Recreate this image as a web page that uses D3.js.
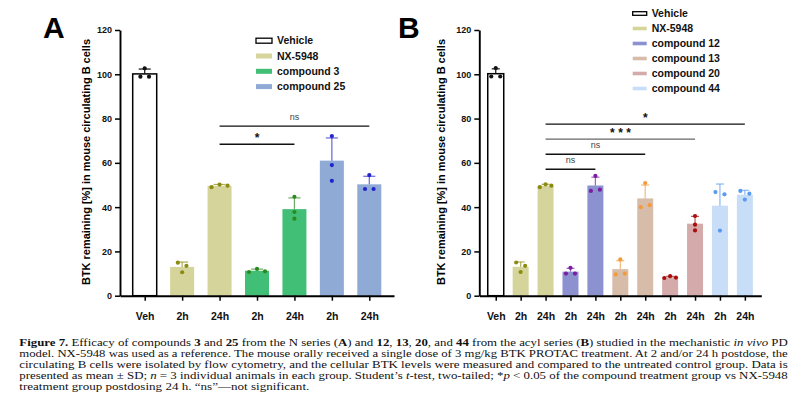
<!DOCTYPE html>
<html lang="en">
<head>
<meta charset="UTF-8">
<title>Figure 7</title>
<script src="https://d3js.org/d3.v7.min.js"></script>
<style>
body { margin: 0; background: #fff; }
text { font-family: "Liberation Sans", Arial, sans-serif; }
.caption text { font-family: "Liberation Serif", "Times New Roman", serif; font-size: 9.8px; fill: #111; }
</style>
</head>
<body>
<div id="chart"></div>
<script>

// ---- panel A (N series)
var labelsA = ["Veh", "2h", "24h", "2h", "24h", "2h", "24h"];
var seriesA = ["Vehicle", "NX-5948", "compound 3", "compound 25"];
var barSeriesA = [0, 1, 1, 2, 2, 3, 3];
// individual animals, read left -> right
var dotsA = [
	[98.9, 102.7, 98.9],
	[14.9, 10.6, 13.5],
	[49.0, 50.2, 49.7],
	[10.7, 12.1, 11.0],
	[44.7, 37.8, 34.8],
	[72.1, 59.0, 51.9],
	[48.2, 54.5, 48.2]
];
var sigA = [
	{ from: 2, to: 4, label: "*" },
	{ from: 2, to: 6, label: "ns" }
];

// ---- panel B (acyl series)
var labelsB = ["Veh", "2h", "24h", "2h", "24h", "2h", "24h", "2h", "24h", "2h", "24h"];
var seriesB = ["Vehicle", "NX-5948", "compound 12", "compound 13", "compound 20", "compound 44"];
var barSeriesB = [0, 1, 1, 2, 2, 3, 3, 4, 4, 5, 5];
var dotsB = [
	[99.0, 102.8, 99.0],
	[15.0, 10.7, 13.5],
	[49.0, 50.3, 49.7],
	[10.0, 12.6, 10.0],
	[47.3, 54.1, 47.9],
	[9.6, 16.4, 10.0],
	[40.0, 50.9, 40.9],
	[8.0, 8.8, 8.2],
	[36.0, 32.1, 29.5],
	[46.8, 29.4, 45.8],
	[47.3, 43.4, 46.1]
];
var sigB = [
	{ from: 2, to: 4, label: "ns" },
	{ from: 2, to: 6, label: "ns" },
	{ from: 2, to: 8, label: "***" },
	{ from: 2, to: 10, label: "*" }
];

var yTicks = [0, 20, 40, 60, 80, 100, 120];
var yTitle = "BTK remaining [%] in mouse circulating B cells";

// colours per series name
var barColor = {
	"Vehicle": "#ffffff",
	"NX-5948": "#d5d49b",
	"compound 3": "#42bf77",
	"compound 25": "#8eaad5",
	"compound 12": "#8c91cf",
	"compound 13": "#d7bda9",
	"compound 20": "#d5aaab",
	"compound 44": "#c8ddf7"
};
var dotColor = {
	"Vehicle": "#111111",
	"NX-5948": "#8b8b12",
	"compound 3": "#2b8a1f",
	"compound 25": "#2323cc",
	"compound 12": "#7b1fa0",
	"compound 13": "#f39a3c",
	"compound 20": "#a80e0e",
	"compound 44": "#5a9af0"
};

var captionLines = [
	[["Figure 7.", "b"], [" Efficacy of compounds "], ["3", "b"], [" and "], ["25", "b"], [" from the N series ("], ["A", "b"], [") and "], ["12", "b"], [", "], ["13", "b"], [", "], ["20", "b"], [", and "], ["44", "b"], [" from the acyl series ("], ["B", "b"], [") studied in the mechanistic "], ["in vivo", "i"], [" PD"]],
	[["model. NX-5948 was used as a reference. The mouse orally received a single dose of 3 mg/kg BTK PROTAC treatment. At 2 and/or 24 h postdose, the"]],
	[["circulating B cells were isolated by flow cytometry, and the cellular BTK levels were measured and compared to the untreated control group. Data is"]],
	[["presented as mean \u00b1 SD; "], ["n", "i"], [" = 3 individual animals in each group. Student\u2019s "], ["t", "i"], ["-test, two-tailed; *"], ["p", "i"], [" < 0.05 of the compound treatment group vs NX-5948"]],
	[["treatment group postdosing 24 h. \u201cns\u201d\u2014not significant."]]
];

var svg = d3.select("#chart")
	.append("svg")
	.attr("width", 807)
	.attr("height", 414);

// put dots that sit at about the same height side by side
function spread(vals, y, cfg) {
	var order = d3.range(vals.length).sort((a, b) => vals[a] - vals[b]);
	var bins = [];
	order.forEach(function (i, k) {
		if (k > 0 && Math.abs(y(vals[i]) - y(vals[order[k - 1]])) < 5) bins[bins.length - 1].push(i);
		else bins.push([i]);
	});
	var off = vals.map(() => 0);
	bins.forEach(function (b) {
		b.sort((p, q) => p - q);
		if (b.length == 2) { off[b[0]] = -cfg.pair; off[b[1]] = cfg.pair; }
		if (b.length >= 3) b.forEach((i, j) => off[i] = (j - (b.length - 1) / 2) * cfg.triple);
	});
	return off;
}

function drawPanel(cfg) {
	var g = svg.append("g");
	var n = cfg.labels.length;

	var x = d3.scalePoint()
		.domain(d3.range(n))
		.range([cfg.left, cfg.right])
		.padding(0.66);

	var y = d3.scaleLinear()
		.domain([0, 120])
		.range([295.7, 30]);

	var groups = cfg.dots.map(function (v, i) {
		var name = cfg.series[cfg.barSeries[i]];
		var m = d3.mean(v);
		return { i: i, name: name, vals: v, mean: m, sd: d3.deviation(v) };
	});

	// bars
	g.selectAll(".bar")
		.data(groups)
		.join("rect")
		.attr("x", (d) => x(d.i) - cfg.barW / 2)
		.attr("y", (d) => y(d.mean))
		.attr("width", cfg.barW)
		.attr("height", (d) => y(0) - y(d.mean))
		.attr("fill", (d) => barColor[d.name])
		.attr("stroke", (d) => d.name == "Vehicle" ? "#000" : "none")
		.attr("stroke-width", 1.5);

	// error bars (upper only)
	var eb = g.selectAll(".err")
		.data(groups)
		.join("g")
		.attr("stroke", (d) => dotColor[d.name])
		.attr("stroke-opacity", (d) => d.name == "Vehicle" ? 1 : 0.7)
		.attr("stroke-width", 1.2);
	eb.append("line")
		.attr("x1", (d) => x(d.i))
		.attr("x2", (d) => x(d.i))
		.attr("y1", (d) => y(d.mean))
		.attr("y2", (d) => y(d.mean + d.sd));
	eb.append("line")
		.attr("x1", (d) => x(d.i) - cfg.capW / 2)
		.attr("x2", (d) => x(d.i) + cfg.capW / 2)
		.attr("y1", (d) => y(d.mean + d.sd))
		.attr("y2", (d) => y(d.mean + d.sd));

	// dots
	groups.forEach(function (d) {
		var off = spread(d.vals, y, cfg);
		g.selectAll(null)
			.data(d.vals)
			.join("circle")
			.attr("cx", (v, k) => x(d.i) + off[k])
			.attr("cy", (v) => y(v))
			.attr("r", 2.1)
			.attr("fill", dotColor[d.name]);
	});

	// axes
	var yAxis = g.append("g")
		.attr("transform", "translate(" + cfg.left + ",0)")
		.call(d3.axisLeft(y).tickValues(yTicks).tickSize(5).tickSizeOuter(0).tickPadding(3));
	var xAxis = g.append("g")
		.attr("transform", "translate(0," + y(0) + ")")
		.call(d3.axisBottom(x).tickSize(5).tickSizeOuter(0).tickPadding(12).tickFormat((i) => cfg.labels[i]));
	[yAxis, xAxis].forEach(function (a) {
		a.select(".domain").attr("stroke", "#000").attr("stroke-width", 1.9);
		a.selectAll(".tick line").attr("stroke", "#000").attr("stroke-width", 1.5);
		a.selectAll("text").attr("font-family", "Liberation Sans, Arial, sans-serif").attr("font-weight", "bold").attr("fill", "#111");
	});
	yAxis.selectAll("text").attr("font-size", 9);
	xAxis.selectAll("text").attr("font-size", 10.5);

	// y title
	g.append("text")
		.attr("transform", "translate(" + cfg.titleX + ",162) rotate(-90)")
		.attr("text-anchor", "middle")
		.attr("dy", "0.35em")
		.attr("font-size", 10.5)
		.attr("font-weight", "bold")
		.attr("textLength", 246)
		.attr("lengthAdjust", "spacingAndGlyphs")
		.text(yTitle);

	// panel letter
	g.append("text")
		.attr("x", cfg.letterX)
		.attr("y", 38)
		.attr("font-size", 30)
		.attr("font-weight", "bold")
		.text(cfg.letter);

	// significance brackets
	cfg.sig.forEach(function (s, j) {
		var ly = y(cfg.sigBase + j * cfg.sigStep);
		g.append("line")
			.attr("x1", x(s.from))
			.attr("x2", x(s.to))
			.attr("y1", ly)
			.attr("y2", ly)
			.attr("stroke", s.label == "***" ? "#666" : "#111")
			.attr("stroke-width", 1.4);
		var star = s.label != "ns";
		g.append("text")
			.attr("x", (x(s.from) + x(s.to)) / 2 + (s.label == "***" ? 2 : 0))
			.attr("y", star ? ly - 2.5 : ly - 6.5)
			.attr("text-anchor", "middle")
			.attr("font-size", star ? 12 : 9)
			.attr("font-weight", star ? "bold" : "normal")
			.attr("letter-spacing", s.label == "***" ? 3.5 : 0)
			.attr("fill", star ? "#111" : "#444")
			.text(s.label);
	});

	// legend
	var lg = g.selectAll(".leg")
		.data(cfg.series)
		.join("g")
		.attr("transform", (d, i) => "translate(" + cfg.legX + "," + (cfg.legY + i * cfg.legStep) + ")");
	lg.append("rect")
		.attr("x", 0)
		.attr("y", (d) => -cfg.boxH / 2)
		.attr("width", cfg.boxW)
		.attr("height", cfg.boxH)
		.attr("fill", (d) => barColor[d])
		.attr("stroke", (d) => d == "Vehicle" ? "#000" : "none")
		.attr("stroke-width", 1.3);
	lg.append("text")
		.attr("x", cfg.boxW + 5)
		.attr("dy", "0.35em")
		.attr("font-size", 10.5)
		.attr("font-weight", "bold")
		.attr("fill", "#111")
		.text((d) => d);
}

drawPanel({
	letter: "A", letterX: 43, titleX: 86,
	left: 120, right: 394,
	labels: labelsA, series: seriesA, barSeries: barSeriesA, dots: dotsA, sig: sigA,
	barW: 24, capW: 12, pair: 4.3, triple: 8,
	sigBase: 68.4, sigStep: 8.2,
	legX: 256, legY: 40.7, legStep: 15.3, boxW: 16, boxH: 5
});

drawPanel({
	letter: "B", letterX: 398, titleX: 441.7,
	left: 479.3, right: 761.3,
	labels: labelsB, series: seriesB, barSeries: barSeriesB, dots: dotsB, sig: sigB,
	barW: 16, capW: 8, pair: 4.5, triple: 5.8,
	sigBase: 57.1, sigStep: 6.8,
	legX: 632.7, legY: 13.5, legStep: 15, boxW: 14, boxH: 3.6
});

// caption, each line justified to the block width
var cap = svg.append("g").attr("class", "caption");
captionLines.forEach(function (line, i) {
	var last = i == captionLines.length - 1;
	var t = cap.append("text")
		.attr("x", 19.3)
		.attr("y", 346 + i * 10.9)
		.attr("textLength", last ? 290 : 768.4)
		.attr("lengthAdjust", "spacingAndGlyphs");
	line.forEach(function (seg) {
		t.append("tspan")
			.attr("font-weight", seg[1] == "b" ? "bold" : null)
			.attr("font-style", seg[1] == "i" ? "italic" : null)
			.text(seg[0]);
	});
});

</script>
</body>
</html>
